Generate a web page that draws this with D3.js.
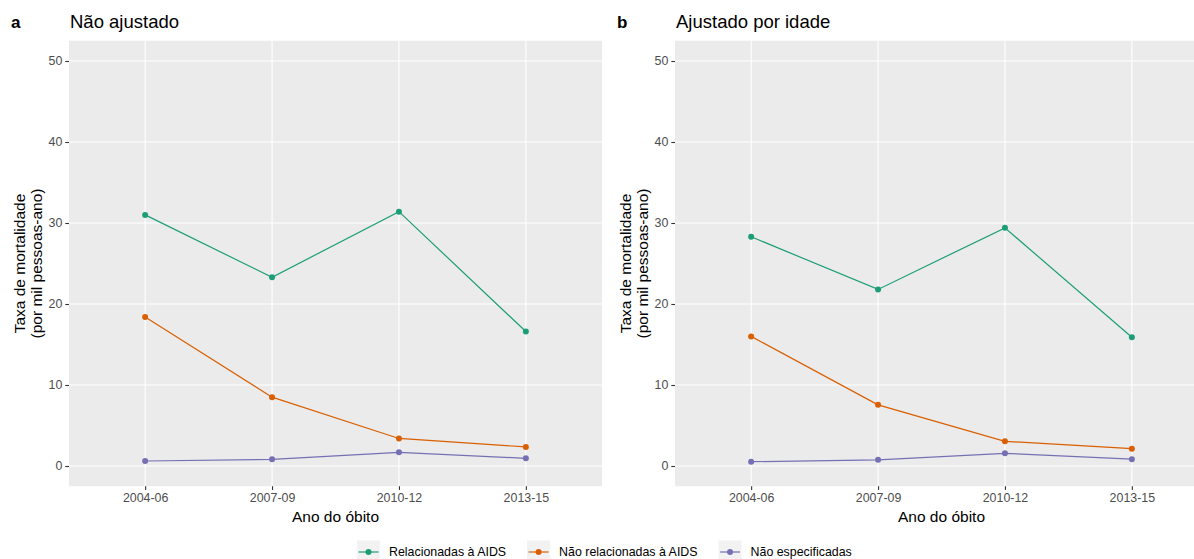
<!DOCTYPE html>
<html>
<head>
<meta charset="utf-8">
<script src="https://cdn.jsdelivr.net/npm/d3@7"></script>
<style>
  body { margin: 0; background: #fff; }
  svg { display: block; font-family: "Liberation Sans", Arial, sans-serif; }
</style>
</head>
<body>
<div id="chart"></div>
<script>
// categories and series
var periods = ["2004-06", "2007-09", "2010-12", "2013-15"];
var seriesNames = ["Relacionadas à AIDS", "Não relacionadas à AIDS", "Não especificadas"];
var seriesColors = ["#1B9E77", "#D95F02", "#7570B3"];
var yTicks = [0, 10, 20, 30, 40, 50];

// a - Não ajustado
var unadjAids = [31.0, 23.3, 31.4, 16.6];
var unadjNonAids = [18.4, 8.5, 3.4, 2.35];
var unadjUnspec = [0.62, 0.82, 1.69, 0.95];

// b - Ajustado por idade
var adjAids = [28.3, 21.8, 29.4, 15.9];
var adjNonAids = [16.0, 7.55, 3.05, 2.14];
var adjUnspec = [0.53, 0.76, 1.56, 0.84];

var panels = [
  { tag: "a", title: "Não ajustado", left: 69, series: [unadjAids, unadjNonAids, unadjUnspec] },
  { tag: "b", title: "Ajustado por idade", left: 675, series: [adjAids, adjNonAids, adjUnspec] }
];

var W = 1194, H = 559;
var plotW = 533, plotTop = 40.75, plotBottom = 486.25;

var svg = d3.select("#chart").append("svg").attr("width", W).attr("height", H);

var y = d3.scaleLinear().domain([-2.5, 52.5]).range([plotBottom, plotTop]);

panels.forEach(function(p) {
  var x = d3.scalePoint().domain(periods).range([p.left, p.left + plotW]).padding(0.6);
  var g = svg.append("g");

  g.append("rect")
    .attr("x", p.left).attr("y", plotTop)
    .attr("width", plotW).attr("height", plotBottom - plotTop)
    .attr("fill", "#EBEBEB");

  // grid
  g.selectAll(".hgrid").data(yTicks).enter().append("line")
    .attr("x1", p.left).attr("x2", p.left + plotW)
    .attr("y1", function(d) { return y(d); }).attr("y2", function(d) { return y(d); })
    .attr("stroke", "#fff").attr("stroke-width", 1.1);
  g.selectAll(".vgrid").data(periods).enter().append("line")
    .attr("x1", function(d) { return x(d); }).attr("x2", function(d) { return x(d); })
    .attr("y1", plotTop).attr("y2", plotBottom)
    .attr("stroke", "#fff").attr("stroke-width", 1.1);

  // y axis
  var yAxis = d3.axisLeft(y).tickValues(yTicks).tickSize(3.7).tickPadding(3);
  var ya = g.append("g").attr("transform", "translate(" + p.left + ",0)").call(yAxis);
  ya.select(".domain").remove();
  ya.selectAll("line").attr("stroke", "#333").attr("stroke-width", 1.1);
  ya.selectAll("text").attr("fill", "#4D4D4D").style("font-size", "12.4px")
    .style("font-family", "'Liberation Sans', Arial, sans-serif");

  // x axis
  var xAxis = d3.axisBottom(x).tickSize(3.7).tickPadding(3);
  var xa = g.append("g").attr("transform", "translate(0," + plotBottom + ")").call(xAxis);
  xa.select(".domain").remove();
  xa.selectAll("line").attr("stroke", "#333").attr("stroke-width", 1.1);
  xa.selectAll("text").attr("fill", "#4D4D4D").style("font-size", "12.4px")
    .style("font-family", "'Liberation Sans', Arial, sans-serif");

  // lines and points
  var line = d3.line()
    .x(function(d, i) { return x(periods[i]); })
    .y(function(d) { return y(d); });

  p.series.forEach(function(vals, s) {
    g.append("path").datum(vals)
      .attr("d", line)
      .attr("fill", "none")
      .attr("stroke", seriesColors[s])
      .attr("stroke-width", 1.2);
    g.selectAll(".pt" + s).data(vals).enter().append("circle")
      .attr("cx", function(d, i) { return x(periods[i]); })
      .attr("cy", function(d) { return y(d); })
      .attr("r", 3)
      .attr("fill", seriesColors[s]);
  });

  // titles
  svg.append("text").attr("x", p.left - 58).attr("y", 28.3)
    .style("font-size", "17px").style("font-weight", "bold").text(p.tag);
  svg.append("text").attr("x", p.left + 1).attr("y", 28.3)
    .style("font-size", "18.5px").text(p.title);

  svg.append("text").attr("x", p.left + plotW / 2).attr("y", 521.5)
    .attr("text-anchor", "middle").style("font-size", "15.5px").text("Ano do óbito");

  var cy = (plotTop + plotBottom) / 2;
  svg.append("text").attr("transform", "translate(" + (p.left - 44) + "," + cy + ") rotate(-90)")
    .attr("text-anchor", "middle").style("font-size", "15.5px").text("Taxa de mortalidade");
  svg.append("text").attr("transform", "translate(" + (p.left - 27) + "," + cy + ") rotate(-90)")
    .attr("text-anchor", "middle").style("font-size", "15.5px").text("(por mil pessoas-ano)");
});

// legend
var legend = svg.append("g");
var lx = 357, keyW = 23, keyCy = 552, gap = 21;
seriesNames.forEach(function(name, s) {
  var item = legend.append("g");
  item.append("rect").attr("x", lx).attr("y", keyCy - 11.5)
    .attr("width", keyW).attr("height", 23).attr("fill", "#F2F2F2");
  item.append("line").attr("x1", lx + 1.5).attr("x2", lx + keyW - 1.5)
    .attr("y1", keyCy).attr("y2", keyCy)
    .attr("stroke", seriesColors[s]).attr("stroke-width", 1.2);
  item.append("circle").attr("cx", lx + keyW / 2).attr("cy", keyCy).attr("r", 3)
    .attr("fill", seriesColors[s]);
  var t = item.append("text").attr("x", lx + keyW + 9).attr("y", keyCy + 4.4)
    .style("font-size", "12.4px").text(name);
  lx += keyW + 9 + t.node().getComputedTextLength() + gap;
});
</script>
</body>
</html>
